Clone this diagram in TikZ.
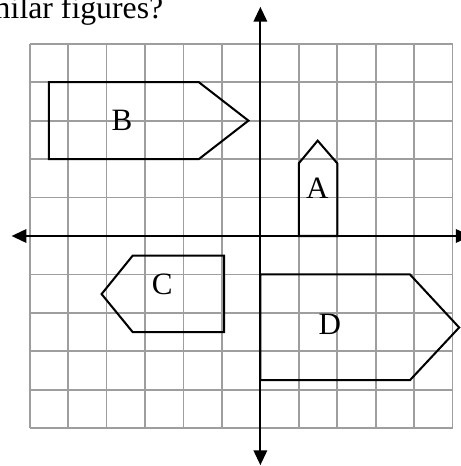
\documentclass[tikz,border=0pt]{standalone}
\usepackage{fontspec}
\setmainfont{Liberation Serif}
\usetikzlibrary{arrows.meta}

\begin{document}
\begin{tikzpicture}[line join=miter,
    gridline/.style={black!38, line width=1.3pt},
    figline/.style={black, line width=1.5pt},
    axis/.style={black, line width=1.5pt, {Triangle[length=11pt,width=10pt]}-{Triangle[length=11pt,width=10pt]}},
    every node/.style={font=\fontsize{23}{27}\selectfont, inner sep=0pt}]
      \useasboundingbox (-6.772,-5.982) rectangle (5.217,6.138);
      \clip (-6.772,-5.982) rectangle (5.217,6.138);

      \draw[gridline] (-6,-5) grid (5,5);

      \coordinate (xl) at (-6.47,0);
      \coordinate (xr) at (5.47,0);
      \coordinate (yt) at (0,5.96);
      \coordinate (yb) at (0,-5.96);

      \draw[axis] (xl) -- (xr);
      \draw[axis] (yb) -- (yt);

      \draw[figline] (-5.5,4) -- (-1.6,4) -- (-0.31,3) -- (-1.6,2) -- (-5.5,2) -- cycle;
      \draw[figline] (1,0) -- (1,1.89) -- (1.49,2.48) -- (2,1.89) -- (2,0) -- cycle;
      \draw[figline] (-0.94,-0.51) -- (-3.32,-0.51) -- (-4.13,-1.51) -- (-3.32,-2.5) -- (-0.94,-2.5) -- cycle;
      \draw[figline] (0,-1) -- (3.89,-1) -- (5.17,-2.38) -- (3.89,-3.75) -- (0,-3.75) -- cycle;

      \node (labB) at (-3.6,3.0) {B};
      \node (labA) at (1.48,1.25) {A};
      \node (labC) at (-2.55,-1.27) {C};
      \node (labD) at (1.81,-2.31) {D};

      \node[anchor=base east, font=\fontsize{23.5}{28}\selectfont] (question) at (-2.52,5.662) {milar figures?};
    \end{tikzpicture}
\end{document}
